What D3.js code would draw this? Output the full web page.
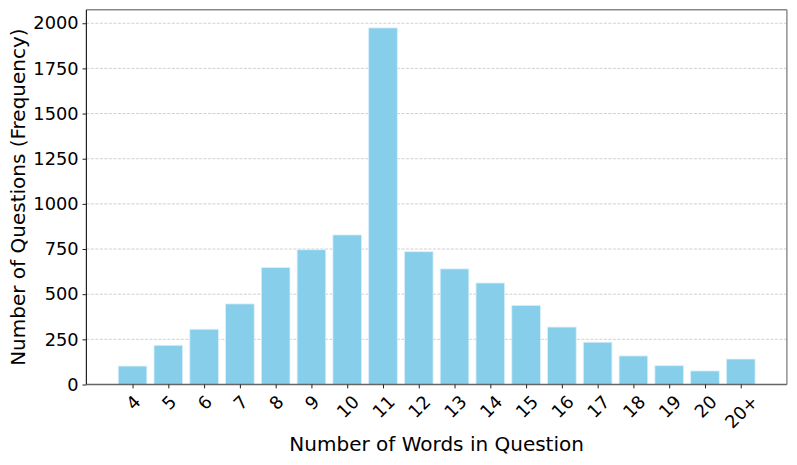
<!DOCTYPE html>
<html><head><meta charset="utf-8">
<script src="https://cdn.jsdelivr.net/npm/d3@7"></script>
<style>body{margin:0;background:#fff}svg{display:block}text{font-family:"DejaVu Sans",sans-serif;fill:#000}</style>
</head><body>
<script>
const categories = ["4","5","6","7","8","9","10","11","12","13","14","15","16","17","18","19","20","20+"];
const counts = [102,217,306,446,647,746,828,1974,735,640,562,438,318,234,158,104,75,141];
const yTicks = [0,250,500,750,1000,1250,1500,1750,2000];
const xLabel = "Number of Words in Question";
const yLabel = "Number of Questions (Frequency)";

const W = 797, H = 465;
const L = 86.4, R = 786.9, T = 9.7, B = 384.5;
const svg = d3.select("body").append("svg").attr("width", W).attr("height", H);

const n = categories.length;
const x = d3.scaleLinear().domain([-0.4 - 0.89, n - 1 + 0.4 + 0.89]).range([L, R]);
const y = d3.scaleLinear().domain([0, 2075]).range([B, T]);

// grid
svg.append("g").selectAll("line").data(yTicks.filter(d => d > 0)).join("line")
  .attr("x1", L).attr("x2", R).attr("y1", d => y(d)).attr("y2", d => y(d))
  .attr("stroke", "#c4c4c4").attr("stroke-width", 0.8).attr("stroke-dasharray", "3,1.5");

// bars
svg.append("g").selectAll("rect").data(counts).join("rect")
  .attr("x", (d, i) => x(i - 0.4)).attr("width", (d, i) => x(i + 0.4) - x(i - 0.4))
  .attr("y", d => y(d)).attr("height", d => B - y(d))
  .attr("fill", "#87CEEB").attr("stroke", "#d8f0fa").attr("stroke-width", 0.8);

// spines
svg.append("line").attr("x1", L).attr("x2", R).attr("y1", T).attr("y2", T).attr("stroke", "#888").attr("stroke-width", 1.4);
svg.append("line").attr("x1", R).attr("x2", R).attr("y1", T).attr("y2", B).attr("stroke", "#888").attr("stroke-width", 1.4);
svg.append("line").attr("x1", L).attr("x2", R).attr("y1", B).attr("y2", B).attr("stroke", "#666").attr("stroke-width", 1.4);
svg.append("line").attr("x1", L).attr("x2", L).attr("y1", T).attr("y2", B).attr("stroke", "#222").attr("stroke-width", 1.2);

// y axis
const yAxis = d3.axisLeft(y).tickValues(yTicks).tickSize(3.9).tickPadding(3.9).tickFormat(d3.format("d"));
const gy = svg.append("g").attr("transform", `translate(${L},0)`).call(yAxis);
gy.select(".domain").remove();
gy.selectAll(".tick line").attr("stroke", "#222").attr("stroke-width", 1);
gy.selectAll(".tick text").style("font-family", "DejaVu Sans").style("font-size", "17.8px").attr("fill", "#000");

// x axis
const xAxis = d3.axisBottom(x).tickValues(d3.range(n)).tickSize(3.9).tickFormat(i => categories[i]);
const gx = svg.append("g").attr("transform", `translate(0,${B})`).call(xAxis);
gx.select(".domain").remove();
gx.selectAll(".tick line").attr("stroke", "#222").attr("stroke-width", 1);
gx.selectAll(".tick text").each(function() {
  const t = d3.select(this);
  t.style("font-family", "DejaVu Sans").style("font-size", "17.8px").attr("fill", "#000")
   .attr("text-anchor", "middle").attr("dy", null).attr("dominant-baseline", "central");
  const w = this.getComputedTextLength();
  const th = 17.8 * 0.95;
  const half = (w + th) / Math.SQRT2 / 2;
  const cy = 3.9 + 3.9 + half;
  t.attr("y", cy).attr("transform", `rotate(-45,0,${cy})`);
});

// labels
svg.append("text").attr("x", (L + R) / 2).attr("y", 451).attr("text-anchor", "middle")
  .style("font-size", "20px").text(xLabel);
svg.append("text").attr("transform", `translate(25,${(T + B) / 2}) rotate(-90)`).attr("text-anchor", "middle")
  .style("font-size", "20px").text(yLabel);
</script>
</body></html>
